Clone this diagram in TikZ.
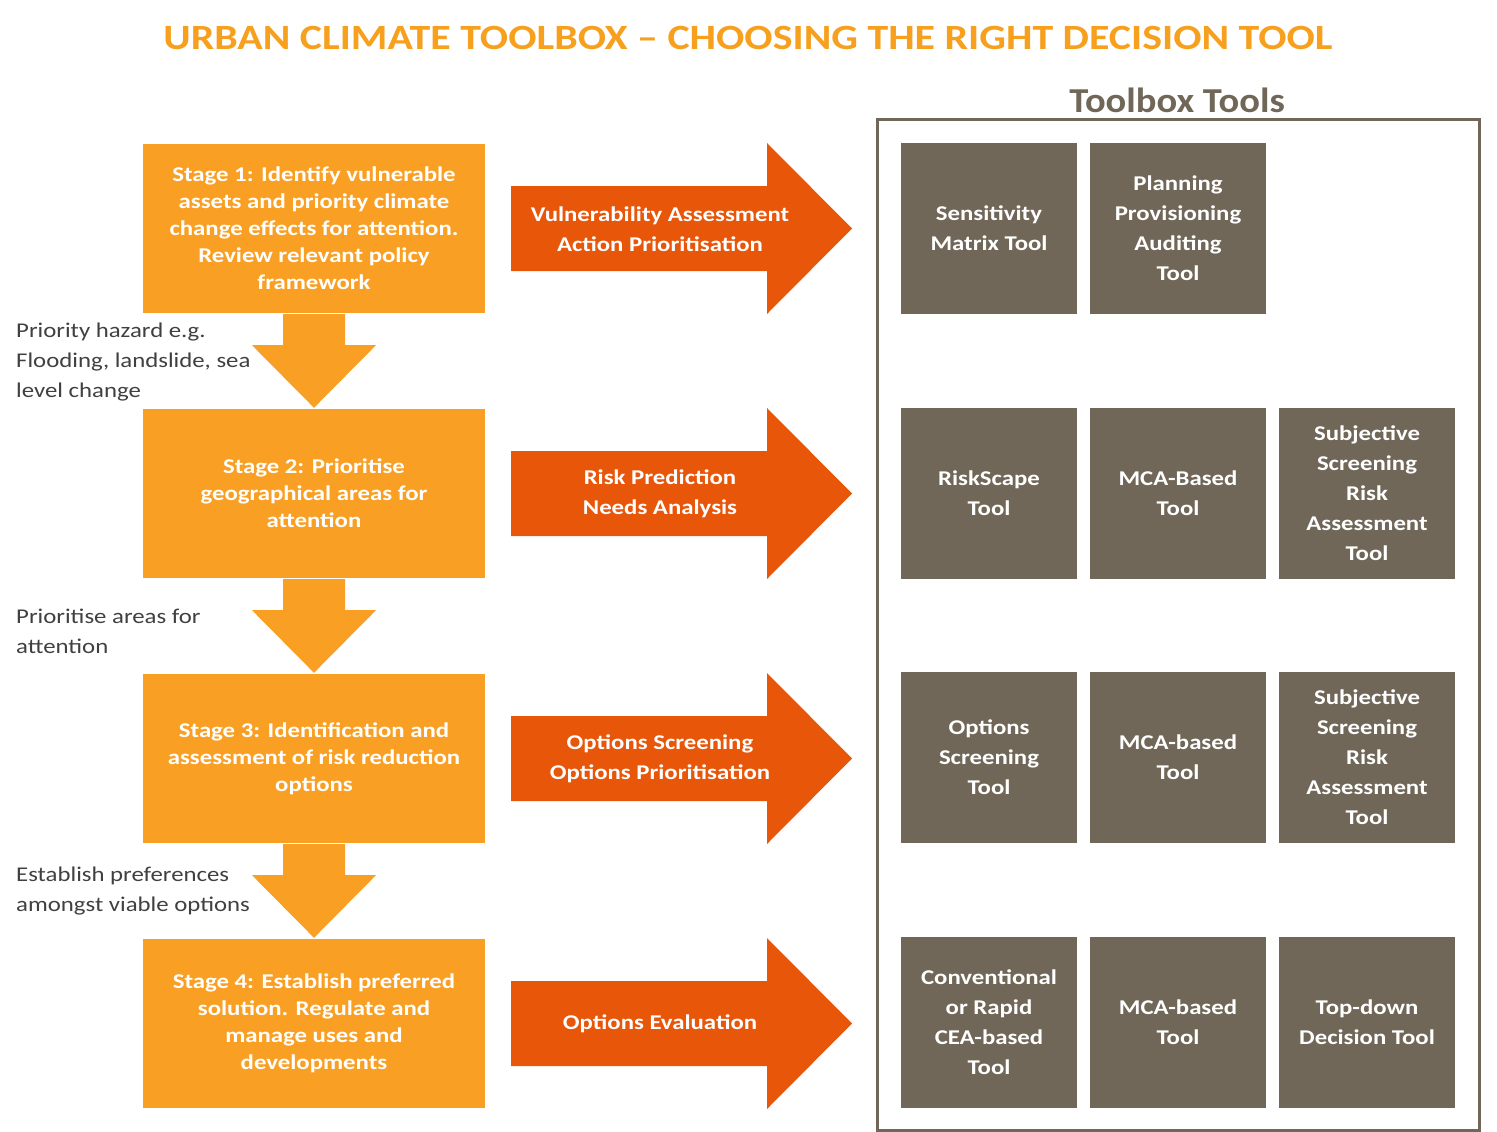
\documentclass[tikz,border=0pt]{standalone}
\usepackage{fontspec}
\setmainfont{Carlito}[FakeStretch=1.18]
\newfontfamily\tbfont{Carlito}[FakeStretch=1.1]
\usetikzlibrary{calc}
\definecolor{stageor}{HTML}{F9A024}
\definecolor{arrowor}{HTML}{E8560A}
\definecolor{toolgray}{HTML}{706758}
\definecolor{titleor}{HTML}{F7A01E}
\definecolor{labelgray}{HTML}{404040}
\begin{document}
\begin{tikzpicture}[x=1pt,y=-1pt,
  stagebox/.style={fill=stageor, minimum width=342pt, minimum height=169pt, inner sep=0pt, text=white, align=center, font=\bfseries\fontsize{21}{27}\selectfont},
  toolnode/.style={fill=toolgray, minimum width=176pt, minimum height=171pt, inner sep=0pt, text=white, align=center, font=\bfseries\fontsize{21}{30}\selectfont},
  arrowtext/.style={inner sep=0pt, text=white, align=center, font=\bfseries\fontsize{21}{30}\selectfont},
  sidelabel/.style={anchor=west, inner sep=0pt, text=labelgray, align=left, font=\fontsize{21}{30}\selectfont},
  downarrow/.style={fill=stageor},
  rightarrow/.style={fill=arrowor}
]
\useasboundingbox (0,0) rectangle (1497,1132);

% title
\node[text=titleor, font=\bfseries\fontsize{35.5}{40}\selectfont, inner sep=0pt] (title) at (748,38) {URBAN CLIMATE TOOLBOX -- CHOOSING THE RIGHT DECISION TOOL};

% stage boxes
\node[stagebox] (s1) at (314,228.5) {Stage 1: Identify vulnerable\\assets and priority climate\\change effects for attention.\\Review relevant policy\\framework};
\node[stagebox] (s2) at (314,493.5) {Stage 2: Prioritise\\geographical areas for\\attention};
\node[stagebox] (s3) at (314,758.5) {Stage 3: Identification and\\assessment of risk reduction\\options};
\node[stagebox] (s4) at (314,1023.5) {Stage 4: Establish preferred\\solution. Regulate and\\manage uses and\\developments};

% down arrows
\foreach \a/\b in {s1/s2, s2/s3, s3/s4}{
  \fill[downarrow] ($(\a.south)+(-31,1)$) -- ($(\a.south)+(31,1)$) -- ($(\a.south)+(31,32)$) -- ($(\a.south)+(62,32)$) -- ($(\b.north)+(0,-1)$) -- ($(\a.south)+(-62,32)$) -- ($(\a.south)+(-31,32)$) -- cycle;
}

% side labels
\node[sidelabel] (l1) at (16,362) {Priority hazard e.g.\\Flooding, landslide, sea\\level change};
\node[sidelabel] (l2) at (16,631) {Prioritise areas for\\attention};
\node[sidelabel] (l3) at (16,891) {Establish preferences\\amongst viable options};

% right arrows
\foreach \cy in {228.5, 493.5, 758.5, 1023.5}{
  \fill[rightarrow] (511,\cy-42.5) -- (767,\cy-42.5) -- (767,\cy-85.5) -- (852,\cy) -- (767,\cy+85.5) -- (767,\cy+42.5) -- (511,\cy+42.5) -- cycle;
}
\node[arrowtext] (a1) at (660,229) {Vulnerability Assessment\\Action Prioritisation};
\node[arrowtext] (a2) at (660,494) {Risk Prediction\\Needs Analysis};
\node[arrowtext] (a3) at (660,759) {Options Screening\\Options Prioritisation};
\node[arrowtext] (a4) at (660,1024) {Options Evaluation};

% toolbox frame
\node[text=toolgray, font=\tbfont\bfseries\fontsize{35}{38}\selectfont, inner sep=0pt] (tbtitle) at (1177,100) {Toolbox Tools};
\draw[toolgray, line width=3pt] (877,119) rectangle (1479,1130);

% tools
\node[toolnode] (t11) at (989,228) {Sensitivity\\Matrix Tool};
\node[toolnode] (t12) at (1178,228) {Planning\\Provisioning\\Auditing\\Tool};
\node[toolnode] (t21) at (989,493) {RiskScape\\Tool};
\node[toolnode] (t22) at (1178,493) {MCA-Based\\Tool};
\node[toolnode] (t23) at (1367,493) {Subjective\\Screening\\Risk\\Assessment\\Tool};
\node[toolnode] (t31) at (989,757.5) {Options\\Screening\\Tool};
\node[toolnode] (t32) at (1178,757.5) {MCA-based\\Tool};
\node[toolnode] (t33) at (1367,757.5) {Subjective\\Screening\\Risk\\Assessment\\Tool};
\node[toolnode] (t41) at (989,1022.5) {Conventional\\or Rapid\\CEA-based\\Tool};
\node[toolnode] (t42) at (1178,1022.5) {MCA-based\\Tool};
\node[toolnode] (t43) at (1367,1022.5) {Top-down\\Decision Tool};
\end{tikzpicture}
\end{document}
